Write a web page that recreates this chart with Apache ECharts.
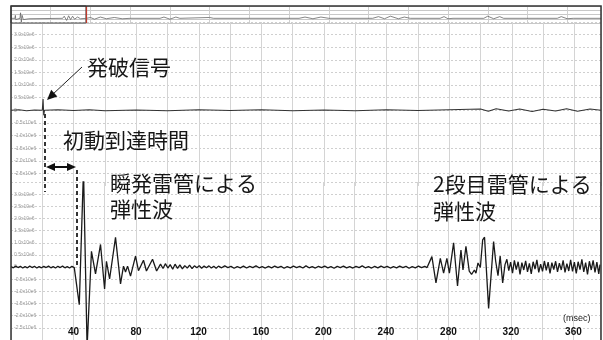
<!DOCTYPE html>
<html>
<head>
<meta charset="utf-8">
<script src="https://cdn.jsdelivr.net/npm/echarts@6/dist/echarts.min.js"></script>
<style>
  html, body { margin: 0; padding: 0; background: #fff; }
  #chart { width: 603px; height: 340px; }
</style>
</head>
<body>
<div id="chart"></div>
<script>
// 時間軸 (msec)
const T_MAX = 377;
const xTicks = [40, 80, 120, 160, 200, 240, 280, 320, 360];
// 上段: 発破信号チャンネル [t, x10e6]
const signalTrace = [
  [0, 0], [5, 0.02], [10, -0.02], [15, 0.01], [20, 0], [20.5, 0.45], [20.9, -0.2], [21.4, 0],
  [30, 0.02], [40, -0.01], [50, 0.02], [60, -0.02], [80, 0.01], [100, -0.02], [120, 0.02],
  [140, -0.01], [160, 0.02], [180, -0.02], [200, 0.01], [220, -0.02], [240, 0.02], [260, -0.01],
  [280, 0.02], [300, 0.05], [305, -0.04], [310, 0.06], [318, -0.03], [325, 0.05], [333, -0.05],
  [340, 0.04], [348, -0.03], [355, 0.06], [362, -0.04], [370, 0.05], [377, 0]
];
// 下段: 受振波形 [t, x10e6]
const waveTrace = [
  [0, 0.02], [1.5, -0.03], [3, 0.04], [4.5, -0.02], [6, 0.03], [7.5, -0.04], [9, 0.02], [10.5, -0.03],
  [12, 0.04], [13.5, -0.02], [15, 0.03], [16.5, -0.04], [18, 0.02], [19.5, -0.03], [21, 0.03],
  [22.5, -0.02], [24, 0.04], [25.5, -0.03], [27, 0.02], [28.5, -0.04], [30, 0.03], [31.5, -0.02],
  [33, 0.04], [34.5, -0.03], [36, 0.02], [37.5, -0.04], [39, 0.03], [40.5, -0.02], [41.3, 0.0],
  // 瞬発雷管
  [43.7, -1.55], [46.4, 4.0], [48.7, -3.3], [51.5, 0.65], [54.1, -0.28], [57.3, 0.93], [59.9, -0.9],
  [61.1, 0.24], [63.1, -0.49], [66.9, 1.22], [70.1, -0.69], [72.0, 0.04], [73.3, -0.2], [74.6, 0.04],
  [76.5, -0.37], [79.7, 0.45], [81.6, -0.15], [84.8, 0.28], [86.7, -0.16], [90.6, 0.32], [93.2, -0.16],
  [95.7, 0.12], [97.3, -0.06], [98.8, 0.14], [100.4, -0.04], [101.9, 0.1], [103.5, -0.09], [105, 0.12],
  [106.6, -0.05], [108.1, 0.09], [109.7, -0.07], [111.2, 0.06], [112.8, -0.04], [114.3, 0.08],
  [115.9, -0.06], [117.4, 0.05], [119, -0.03], [120.5, 0.06], [122, -0.05], [123.6, 0.04],
  [125.1, -0.03], [126.7, 0.05], [128.2, -0.04], [129.8, 0.03], [131.3, -0.05],
  [132.8, 0.04], [134.8, -0.03], [136.8, 0.05], [138.8, -0.02], [140.8, 0.03], [142.8, -0.05],
  [144.8, 0.02], [146.8, -0.03], [148.8, 0.04], [150.8, -0.04], [152.8, 0.03], [154.8, -0.02],
  [156.8, 0.05], [158.8, -0.03], [160.8, 0.02], [162.8, -0.04], [164.8, 0.03], [166.8, -0.03],
  [168.8, 0.04], [170.8, -0.02], [172.8, 0.03], [174.8, -0.05], [176.8, 0.02], [178.8, -0.03],
  [180.8, 0.04], [182.8, -0.02], [184.8, 0.03], [186.8, -0.04], [188.8, 0.05], [190.8, -0.03],
  [192.8, 0.02], [194.8, -0.04], [196.8, 0.03], [198.8, -0.02], [200.8, 0.04], [202.8, -0.03],
  [204.8, 0.02], [206.8, -0.05], [208.8, 0.03], [210.8, -0.02], [212.8, 0.04], [214.8, -0.03],
  [216.8, 0.02], [218.8, -0.04], [220.8, 0.03], [222.8, -0.02], [224.8, 0.05], [226.8, -0.03],
  [228.8, 0.02], [230.8, -0.04], [232.8, 0.03], [234.8, -0.03], [236.8, 0.04], [238.8, -0.02],
  [240.8, 0.03], [242.8, -0.04], [244.8, 0.02], [246.8, -0.03], [248.8, 0.04], [250.8, -0.02],
  [252.8, 0.03], [254.8, -0.05], [256.8, 0.02], [258.8, -0.03], [260.8, 0.04], [262.8, -0.02],
  [264.8, 0.03], [266.3, -0.02], [267.3, 0],
  // 2段目雷管
  [269.4, 0.43], [272, -0.65], [274.8, 0.36], [276.9, -0.25], [279, 0.36], [280.6, -0.25],
  [283.3, 1.0], [285.8, -0.78], [288, 0.7], [289.3, -0.12], [291.2, 0.85], [293.3, -0.17],
  [294.8, -0.3], [296.6, -0.12], [297.6, -0.25], [298.9, 0.17], [300.4, -0.02], [301.9, 1.12],
  [303.1, 1.23], [305.7, -1.7], [308.9, 1.05], [310.2, 0.25], [311.7, -0.35], [313.1, 0.45],
  [314.7, -0.65], [316.2, 0.1], [317.4, 0.32], [318.6, -0.15], [319.8, 0.2], [321, -0.25],
  [322.2, 0.28], [323.4, -0.1], [324.6, 0.22], [325.8, -0.3], [327, 0.18], [328.2, -0.12],
  [329.4, 0.26], [330.6, -0.2], [331.8, 0.15], [333, -0.28], [334.2, 0.22], [335.4, -0.08],
  [336.6, 0.3], [337.8, -0.22], [339, 0.12], [340.2, -0.18], [341.4, 0.25], [342.6, -0.14],
  [343.8, 0.2], [345, -0.26], [346.2, 0.18], [347.4, -0.1], [348.6, 0.24], [349.8, -0.2],
  [351, 0.16], [352.2, -0.12], [353.4, 0.28], [354.6, -0.22], [355.8, 0.14], [357, -0.16],
  [358.2, 0.3], [359.4, -0.18], [360.6, 0.2], [361.8, -0.26], [363, 0.22], [364.2, -0.1],
  [365.4, 0.32], [366.6, -0.2], [367.8, 0.18], [369, -0.3], [370.2, 0.24], [371.4, -0.12],
  [372.6, 0.28], [373.8, -0.22], [375, 0.2], [376.2, -0.28], [377, 0.1]
];
// 上部の全体表示 (msec, 全長)
const OVERVIEW_MAX = 2970;
const overviewTrace = [
  [0, -0.45], [20, -0.45], [22, -0.1], [24, -0.6], [26, -0.45], [45, -0.45], [48, 0.2], [52, -0.9],
  [56, -0.1], [62, -0.6], [70, -0.4], [90, -0.5], [100, -0.45], [260, -0.45], [268, -0.2], [280, -0.7],
  [290, -0.15], [300, -0.6], [310, -0.2], [320, -0.55], [335, -0.3], [350, -0.5], [380, -0.45],
  [400, -0.35], [420, -0.55], [450, -0.3], [480, -0.5], [520, -0.35], [560, -0.5], [600, -0.45],
  [750, -0.45], [770, -0.3], [800, -0.55], [830, -0.3], [850, -0.45], [1000, -0.35], [1020, -0.45],
  [1200, -0.45], [1450, -0.45], [1480, -0.3], [1520, -0.5], [1560, -0.3], [1600, -0.45],
  [1820, -0.45], [1850, -0.25], [1880, -0.5], [1910, -0.2], [1950, -0.5], [1980, -0.3], [2010, -0.45],
  [2160, -0.45], [2180, -0.25], [2200, -0.5], [2225, -0.45], [2380, -0.45], [2400, -0.2],
  [2430, -0.5], [2460, -0.25], [2480, -0.45], [2750, -0.45], [2770, -0.25], [2800, -0.5],
  [2830, -0.45], [2970, -0.45]
];

const JP_FONT = '"Noto Sans CJK JP", sans-serif';
const GRID_COLOR = '#d4d4d4';

// y軸ラベル (例: 1.5x10e6)
function ampLabel(v) {
  if (v === 0) return '0';
  return v.toFixed(1) + 'x10e6';
}

function timeAxis(gridIndex, showLabel) {
  return {
    type: 'value', gridIndex: gridIndex, min: 0, max: T_MAX, interval: 20,
    axisLine: { show: false }, axisTick: { show: false },
    axisLabel: {
      show: showLabel, inside: true, margin: 3, color: '#111', fontSize: 10,
      fontFamily: 'Liberation Sans', fontWeight: 'bold',
      formatter: (v) => (xTicks.indexOf(v) >= 0 ? String(v) : '')
    },
    splitLine: { lineStyle: { color: GRID_COLOR, width: 1 } }
  };
}

function ampAxis(gridIndex) {
  return {
    type: 'value', gridIndex: gridIndex, min: -3, max: 3.5, interval: 0.5,
    axisLine: { show: false }, axisTick: { show: false },
    axisLabel: {
      inside: true, margin: 3, color: '#9a9a9a', fontSize: 5, fontFamily: 'Liberation Sans',
      showMinLabel: false, showMaxLabel: false, formatter: ampLabel
    },
    splitLine: { showMinLine: false, lineStyle: { color: '#cfcfcf', type: [2, 2] } }
  };
}

// 矢印の先端 (tip から dx,dy 方向へ戻った三角形)
function arrowHead(tipX, tipY, dx, dy, len, half) {
  const n = Math.hypot(dx, dy);
  const ux = dx / n, uy = dy / n;
  const bx = tipX - ux * len, by = tipY - uy * len;
  return {
    type: 'polygon', z: 110,
    shape: { points: [[tipX, tipY], [bx - uy * half, by + ux * half], [bx + uy * half, by - ux * half]] },
    style: { fill: '#111' }
  };
}

function label(text, x, y, size) {
  return {
    type: 'text', x: x, y: y, z: 110,
    style: { text: text, font: size + 'px ' + JP_FONT, fill: '#161616', verticalAlign: 'middle' }
  };
}

const chart = echarts.init(document.getElementById('chart'));
chart.setOption({
  backgroundColor: '#fff',
  animation: false,
  grid: [
    { left: 11, right: 2, top: 6, height: 17 },
    { left: 11, right: 2, top: 22, height: 164 },
    { left: 11, right: 2, top: 182, height: 160 }
  ],
  xAxis: [
    {
      type: 'value', gridIndex: 0, min: 0, max: OVERVIEW_MAX, interval: 200,
      axisLine: { show: false }, axisTick: { show: false }, axisLabel: { show: false },
      splitLine: { lineStyle: { color: '#cfcfcf' } }
    },
    timeAxis(1, false),
    timeAxis(2, true)
  ],
  yAxis: [
    {
      type: 'value', gridIndex: 0, min: -1, max: 1, interval: 0.5,
      axisLine: { show: false }, axisTick: { show: false }, axisLabel: { show: false },
      splitLine: { lineStyle: { color: '#c8c8c8' } }
    },
    ampAxis(1),
    ampAxis(2)
  ],
  series: [
    {
      type: 'line', xAxisIndex: 0, yAxisIndex: 0, data: overviewTrace,
      showSymbol: false, lineStyle: { color: '#666', width: 0.8 },
      markArea: {
        silent: true,
        itemStyle: { color: 'rgba(0,0,0,0)', borderColor: '#555', borderWidth: 1 },
        data: [[{ xAxis: 0 }, { xAxis: T_MAX }]]
      },
      markLine: {
        silent: true, symbol: 'none', label: { show: false },
        lineStyle: { color: '#c0392b', width: 1.2, type: 'solid' },
        data: [{ xAxis: T_MAX }]
      }
    },
    {
      type: 'line', xAxisIndex: 1, yAxisIndex: 1, data: signalTrace,
      showSymbol: false, lineStyle: { color: '#333', width: 1.1 }
    },
    {
      type: 'line', xAxisIndex: 2, yAxisIndex: 2, data: waveTrace,
      showSymbol: false, lineStyle: { color: '#1a1a1a', width: 1.3 }
    }
  ],
  graphic: [
    // 外枠
    {
      type: 'rect', z: 100, shape: { x: 11, y: 6, width: 590, height: 340 },
      style: { fill: 'none', stroke: '#333', lineWidth: 1.5 }
    },
    // 発破信号の矢印
    { type: 'line', z: 110, shape: { x1: 82, y1: 67, x2: 52, y2: 95 }, style: { stroke: '#222', lineWidth: 1 } },
    arrowHead(47, 100, -35, 33, 10, 4.5),
    // 破線 (発破時刻 / 初動到達)
    {
      type: 'line', z: 110, shape: { x1: 45, y1: 114, x2: 45, y2: 192 },
      style: { stroke: '#333', lineWidth: 2, lineDash: [4, 3] }
    },
    {
      type: 'line', z: 110, shape: { x1: 77, y1: 170, x2: 77, y2: 265 },
      style: { stroke: '#333', lineWidth: 2, lineDash: [4, 3] }
    },
    // 初動到達時間の両矢印
    { type: 'line', z: 110, shape: { x1: 50, y1: 167, x2: 72, y2: 167 }, style: { stroke: '#111', lineWidth: 2 } },
    arrowHead(46, 167, -1, 0, 9, 4),
    arrowHead(76, 167, 1, 0, 9, 4),
    // 注記
    label('発破信号', 87, 67, 21),
    label('初動到達時間', 63, 140, 21),
    label('瞬発雷管による', 110, 183, 21),
    label('弾性波', 110, 209, 21),
    label('2段目雷管による', 433, 184, 21),
    label('弾性波', 433, 211, 21),
    {
      type: 'text', x: 563, y: 319, z: 110,
      style: { text: '(msec)', font: '9px "Liberation Sans"', fill: '#222', verticalAlign: 'middle' }
    }
  ]
});
</script>
</body>
</html>
